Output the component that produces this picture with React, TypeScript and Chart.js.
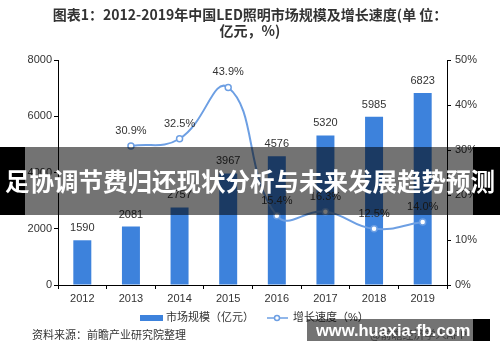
import React, { useEffect, useRef } from "react";
import { Chart, registerables } from "chart.js";

Chart.register(...registerables);

const categories = ["2012", "2013", "2014", "2015", "2016", "2017", "2018", "2019"];
const marketSize = [1590, 2081, 2757, 3967, 4576, 5320, 5985, 6823];
const growthRate: (number | null)[] = [null, 30.9, 32.5, 43.9, 15.4, 16.3, 12.5, 14.0];
const sizeTicks = [0, 2000, 4000, 6000, 8000];
const rateTicks = [0, 10, 20, 30, 40, 50];
const legendLabels = ["市场规模（亿元）", "增长速度（%）"];
const titleLine1 = "图表1：2012-2019年中国LED照明市场规模及增长速度(单 位：";
const titleLine2 = "亿元，%)";
const sourceText = "资料来源：前瞻产业研究院整理";
const bannerText = "足协调节费归还现状分析与未来发展趋势预测";
const siteText = "www.huaxia-fb.com";
const appText = "@前瞻经济学人APP";

const BAR = "#3d82dc";
const LINE = "#6d9fe3";
const FONT = '"Liberation Sans", "Noto Sans CJK SC", sans-serif';

const labelPlugin = {
  id: "valueLabels",
  afterDatasetsDraw(chart: any) {
    const ctx = chart.ctx;
    ctx.save();
    ctx.font = `11px ${FONT}`;
    ctx.fillStyle = "#333";
    ctx.textAlign = "center";
    ctx.textBaseline = "middle";
    const barMeta = chart.getDatasetMeta(0);
    barMeta.data.forEach((el: any, i: number) => {
      ctx.fillText(String(marketSize[i]), el.x, el.y - 12);
    });
    const lineMeta = chart.getDatasetMeta(1);
    lineMeta.data.forEach((el: any, i: number) => {
      const v = growthRate[i];
      if (v === null || v === undefined) return;
      ctx.fillText(v.toFixed(1) + "%", el.x, el.y - 15);
    });
    ctx.restore();
  },
  afterDraw(chart: any) {
    const ctx = chart.ctx;
    ctx.save();
    ctx.font = `11px ${FONT}`;
    ctx.fillStyle = "#333";
    ctx.textBaseline = "middle";
    ctx.textAlign = "left";
    const y = 318;
    ctx.fillStyle = BAR;
    ctx.fillRect(140, y - 3, 23, 6);
    ctx.fillStyle = "#333";
    ctx.fillText(legendLabels[0], 166, y);
    ctx.strokeStyle = LINE;
    ctx.lineWidth = 1.5;
    ctx.beginPath();
    ctx.moveTo(267, y);
    ctx.lineTo(288, y);
    ctx.stroke();
    ctx.beginPath();
    ctx.arc(277, y, 2.5, 0, Math.PI * 2);
    ctx.fillStyle = "#fff";
    ctx.fill();
    ctx.stroke();
    ctx.fillStyle = "#333";
    ctx.fillText(legendLabels[1], 293, y);
    ctx.restore();
  },
};

export default function App() {
  const ref = useRef<HTMLCanvasElement | null>(null);
  useEffect(() => {
    if (!ref.current) return;
    const chart = new Chart(ref.current, {
      type: "bar",
      data: {
        labels: categories,
        datasets: [
          {
            type: "bar",
            label: legendLabels[0],
            data: marketSize,
            backgroundColor: BAR,
            barPercentage: 0.37,
            categoryPercentage: 1,
            yAxisID: "y",
            order: 1,
          },
          {
            type: "line",
            label: legendLabels[1],
            data: growthRate,
            borderColor: LINE,
            borderWidth: 2,
            tension: 0.45,
            pointRadius: 3,
            pointBackgroundColor: "#fff",
            pointBorderColor: LINE,
            pointBorderWidth: 1.5,
            yAxisID: "y1",
            order: 0,
          } as any,
        ],
      },
      options: {
        responsive: false,
        animation: false,
        layout: { padding: { left: 0, right: 0, top: 60, bottom: 47 } },
        plugins: { legend: { display: false }, tooltip: { enabled: false }, title: { display: false } },
        scales: {
          x: {
            grid: { display: true, drawOnChartArea: false, drawTicks: true, tickLength: 4, color: "#000", offset: true },
            border: { display: true, color: "#000", width: 1 },
            ticks: { font: { size: 11, family: FONT }, color: "#333", padding: 3 },
            afterFit: (s: any) => { s.height = 30; },
          },
          y: {
            position: "left",
            min: 0,
            max: 8000,
            afterBuildTicks: (s: any) => { s.ticks = sizeTicks.map((v) => ({ value: v })); },
            grid: { display: true, drawOnChartArea: false, drawTicks: true, tickLength: 4, color: "#000" },
            border: { display: true, color: "#000", width: 1 },
            ticks: { font: { size: 11, family: FONT }, color: "#333", padding: 2, callback: (v: any) => String(v) },
            afterFit: (s: any) => { s.width = 58; },
          },
          y1: {
            position: "right",
            min: 0,
            max: 50,
            afterBuildTicks: (s: any) => { s.ticks = rateTicks.map((v) => ({ value: v })); },
            grid: { display: true, drawOnChartArea: false, drawTicks: true, tickLength: 4, color: "#000" },
            border: { display: true, color: "#000", width: 1 },
            ticks: { font: { size: 11, family: FONT }, color: "#333", padding: 4, callback: (v: any) => v + "%" },
            afterFit: (s: any) => { s.width = 53; },
          },
        },
      },
      plugins: [labelPlugin],
    } as any);
    return () => chart.destroy();
  }, []);

  return (
    <div style={{ position: "fixed", left: 0, top: 0, width: 500, height: 362, background: "#fff", overflow: "hidden", fontFamily: FONT }}>
      <canvas ref={ref} width={500} height={362} style={{ position: "absolute", left: 0, top: 0 }} />
      <div style={{ position: "absolute", left: 0, top: 6, width: 500, textAlign: "center", fontWeight: "bold", fontSize: 14, lineHeight: "16px", color: "#333", fontFamily: '"Noto Sans CJK SC", sans-serif' }}>
        <div>{titleLine1}</div>
        <div>{titleLine2}</div>
      </div>
      <div style={{ position: "absolute", left: 32, top: 326, fontSize: 11, color: "#333", fontFamily: '"Noto Sans CJK SC", sans-serif', lineHeight: "16px" }}>{sourceText}</div>
      <div style={{ position: "absolute", left: 370, top: 326, fontSize: 11, color: "#888", fontFamily: '"Noto Sans CJK SC", sans-serif', lineHeight: "16px" }}>{appText}</div>
      <div style={{ position: "absolute", left: 0, top: 147, width: 25, height: 68, background: "#000" }} />
      <div style={{ position: "absolute", left: 25, top: 147, width: 448, height: 68, background: "rgba(0,0,0,0.55)" }} />
      <div style={{ position: "absolute", left: 473, top: 147, width: 27, height: 68, background: "#000" }} />
      <div style={{ position: "absolute", left: 0, top: 166, width: 500, textAlign: "center", color: "#fff", fontWeight: "bold", fontSize: 24.5, lineHeight: "30px", whiteSpace: "nowrap", fontFamily: '"Noto Sans CJK SC", sans-serif' }}>{bannerText}</div>
      <div style={{ position: "absolute", left: 307, top: 319, width: 166, height: 22, background: "rgba(0,0,0,0.55)" }} />
      <div style={{ position: "absolute", left: 473, top: 319, width: 17, height: 22, background: "#000" }} />
      <div style={{ position: "absolute", left: 316, top: 319, width: 170, height: 22, color: "#fff", fontWeight: "bold", fontSize: 16.5, lineHeight: "22px", whiteSpace: "nowrap", fontFamily: '"Liberation Sans", sans-serif' }}>{siteText}</div>
    </div>
  );
}
